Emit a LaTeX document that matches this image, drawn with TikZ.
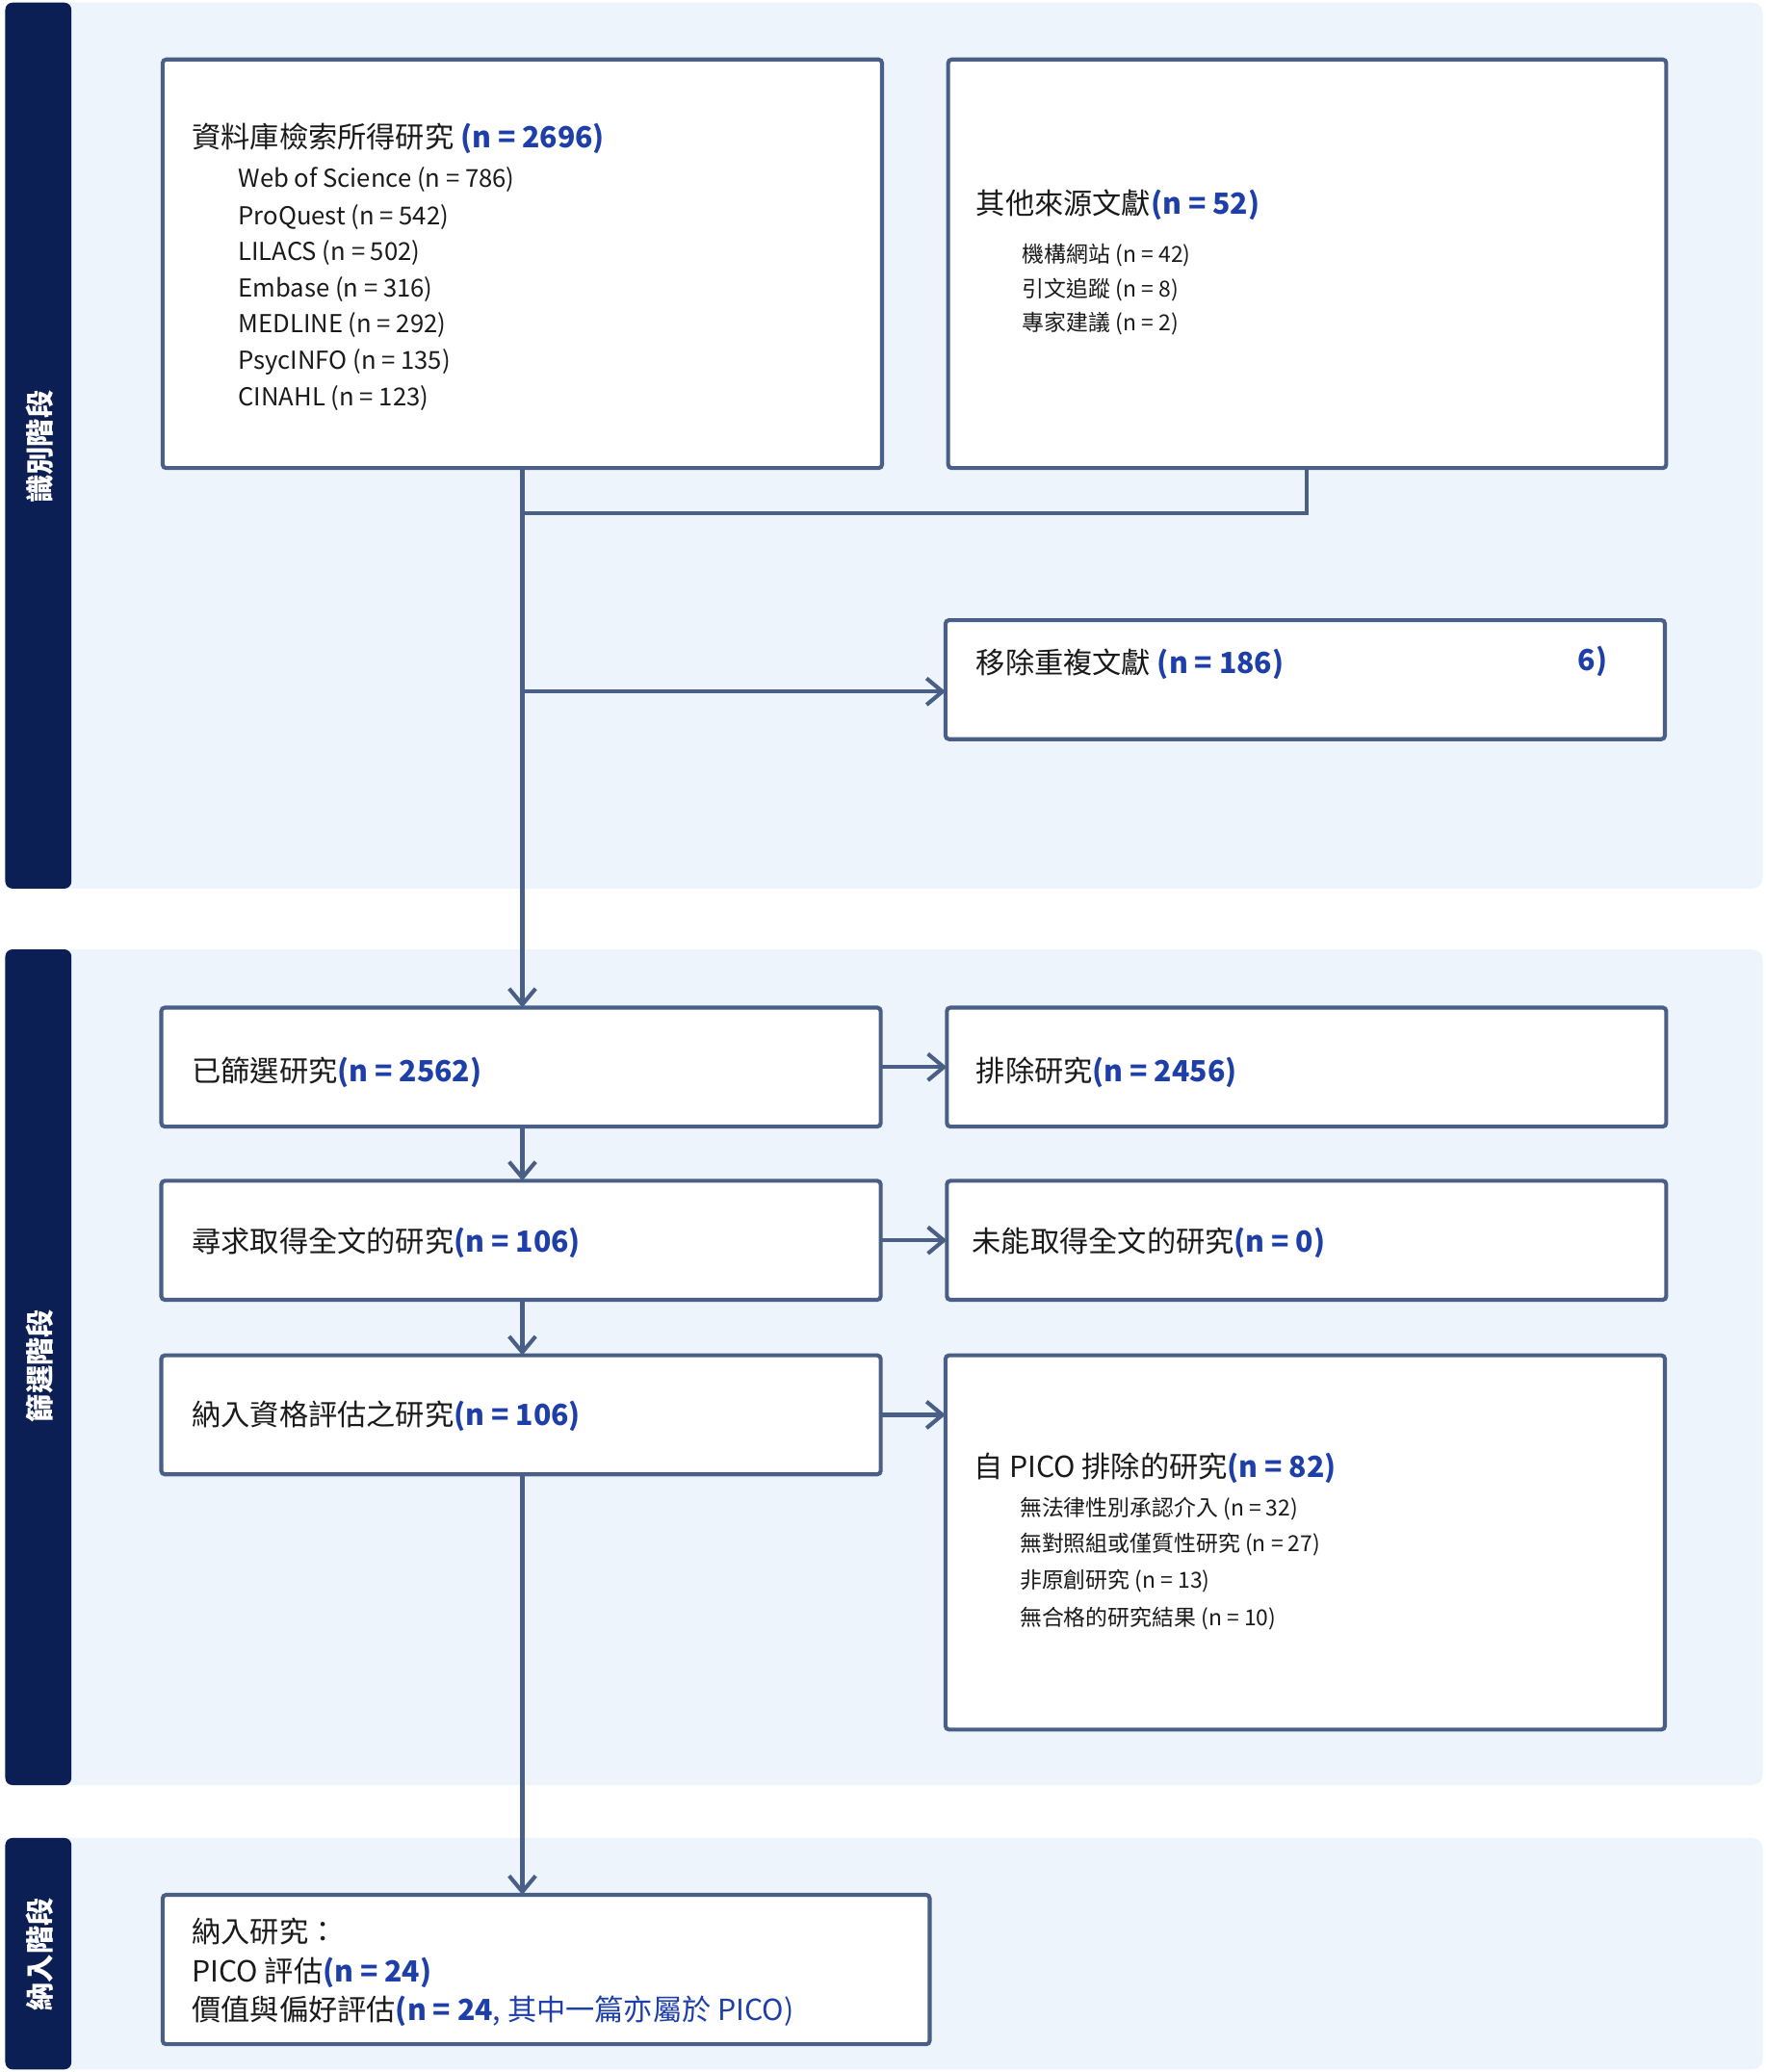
\documentclass[tikz,border=0pt]{standalone}
\usepackage{fontspec}
\setmainfont{Noto Sans CJK TC}
\usetikzlibrary{arrows.meta}
\definecolor{bandbg}{HTML}{EEF4FC}
\definecolor{navy}{HTML}{0C1F55}
\definecolor{edge}{HTML}{4A5F85}
\definecolor{blu}{HTML}{1F3FA8}
\definecolor{txt}{HTML}{1A1A1A}
\newcommand{\bn}[1]{\textcolor{blu}{\bfseries #1}}
\begin{document}
\begin{tikzpicture}[x=0.75pt,y=-0.75pt,
  box/.style={draw=edge,line width=2.25pt,fill=white,rounded corners=2pt},
  conn/.style={draw=edge,line width=2.25pt},
  arr/.style={conn,-{Straight Barb[length=9pt,width=15pt,line width=2.25pt]}},
  tmain/.style={anchor=west,inner sep=0pt,text=txt,font=\fontsize{16.5}{19}\selectfont},
  tsub/.style={anchor=west,inner sep=0pt,text=txt,font=\fontsize{14}{17}\selectfont},
  tsmall/.style={anchor=west,inner sep=0pt,text=txt,font=\fontsize{12.5}{15}\selectfont},
  phase/.style={rotate=90,text=white,font=\bfseries\fontsize{16}{19}\selectfont}]
\useasboundingbox (0,0) rectangle (1335,1567);
\fill[white] (0,0) rectangle (1335,1567);
% bands
\fill[bandbg,rounded corners=6pt] (4,2) rectangle (1333,672);
\fill[bandbg,rounded corners=6pt] (4,718) rectangle (1333,1350);
\fill[bandbg,rounded corners=6pt] (4,1390) rectangle (1333,1565);
\fill[navy,rounded corners=4pt] (4,2) rectangle (54,672);
\fill[navy,rounded corners=4pt] (4,718) rectangle (54,1350);
\fill[navy,rounded corners=4pt] (4,1390) rectangle (54,1565);
\node[phase] (p1) at (30,338) {識別階段};
\node[phase] (p2) at (30,1033) {篩選階段};
\node[phase] (p3) at (30,1478) {納入階段};
% boxes
\draw[box] (123,45) rectangle (667,354);
\coordinate (Abot) at (395,354);
\draw[box] (717,45) rectangle (1260,354);
\coordinate (Bbot) at (988,354);
\draw[box] (715,469) rectangle (1259,559);
\coordinate (Cw) at (715,523);
\draw[box] (122,762) rectangle (666,852);
\draw[box] (716,762) rectangle (1260,852);
\draw[box] (122,893) rectangle (666,983);
\draw[box] (716,893) rectangle (1260,983);
\draw[box] (122,1025) rectangle (666,1115);
\draw[box] (715,1025) rectangle (1259,1308);
\draw[box] (123,1433) rectangle (703,1546);
% connectors
\coordinate (Dtop) at (395,762);
\coordinate (Dbot) at (395,852);
\coordinate (Ftop) at (395,893);
\coordinate (Fbot) at (395,983);
\coordinate (Htop) at (395,1025);
\coordinate (Hbot) at (395,1115);
\coordinate (Jtop) at (395,1433);
\coordinate (join) at (395,388);
\coordinate (split) at (395,523);
\draw[conn] (Bbot) |- (join);
\draw[arr] (Abot) -- (Dtop);
\draw[arr] (split) -- (Cw);
\draw[arr] (666,807) -- (716,807);
\draw[arr] (666,938) -- (716,938);
\draw[arr] (666,1070) -- (715,1070);
\draw[arr] (Dbot) -- (Ftop);
\draw[arr] (Fbot) -- (Htop);
\draw[arr] (Hbot) -- (Jtop);
% texts
\node[tmain] (a0) at (145,105) {資料庫檢索所得研究 \bn{(n = 2696)}};
\node[tsub] (a1) at (180,136) {Web of Science (n = 786)};
\node[tsub] (a2) at (180,164) {ProQuest (n = 542)};
\node[tsub] (a3) at (180,191) {LILACS (n = 502)};
\node[tsub] (a4) at (180,219) {Embase (n = 316)};
\node[tsub] (a5) at (180,246) {MEDLINE (n = 292)};
\node[tsub] (a6) at (180,274) {PsycINFO (n = 135)};
\node[tsub] (a7) at (180,301) {CINAHL (n = 123)};
\node[tmain] (b0) at (738,155) {其他來源文獻\bn{(n = 52)}};
\node[tsmall] (b1) at (773,193) {機構網站 (n = 42)};
\node[tsmall] (b2) at (773,219) {引文追蹤 (n = 8)};
\node[tsmall] (b3) at (773,245) {專家建議 (n = 2)};
\node[tmain] (c0) at (738,502) {移除重複文獻 \bn{(n = 186)}};
\node[tmain] (c1) at (1193,500) {\bn{6)}};
\node[tmain] (d0) at (145,811) {已篩選研究\bn{(n = 2562)}};
\node[tmain] (e0) at (738,811) {排除研究\bn{(n = 2456)}};
\node[tmain] (f0) at (145,940) {尋求取得全文的研究\bn{(n = 106)}};
\node[tmain] (g0) at (735,940) {未能取得全文的研究\bn{(n = 0)}};
\node[tmain] (h0) at (145,1071) {納入資格評估之研究\bn{(n = 106)}};
\node[tmain] (i0) at (736,1110) {自 PICO 排除的研究\bn{(n = 82)}};
\node[tsmall] (i1) at (771,1141) {無法律性別承認介入 (n = 32)};
\node[tsmall] (i2) at (771,1168) {無對照組或僅質性研究 (n = 27)};
\node[tsmall] (i3) at (771,1196) {非原創研究 (n = 13)};
\node[tsmall] (i4) at (771,1224) {無合格的研究結果 (n = 10)};
\node[tmain] (j0) at (145,1461) {納入研究：};
\node[tmain] (j1) at (145,1492) {PICO 評估\bn{(n = 24)}};
\node[tmain] (j2) at (145,1521) {價值與偏好評估\bn{(n = 24}\textcolor{blu}{, 其中一篇亦屬於 PICO)}};
\end{tikzpicture}
\end{document}
